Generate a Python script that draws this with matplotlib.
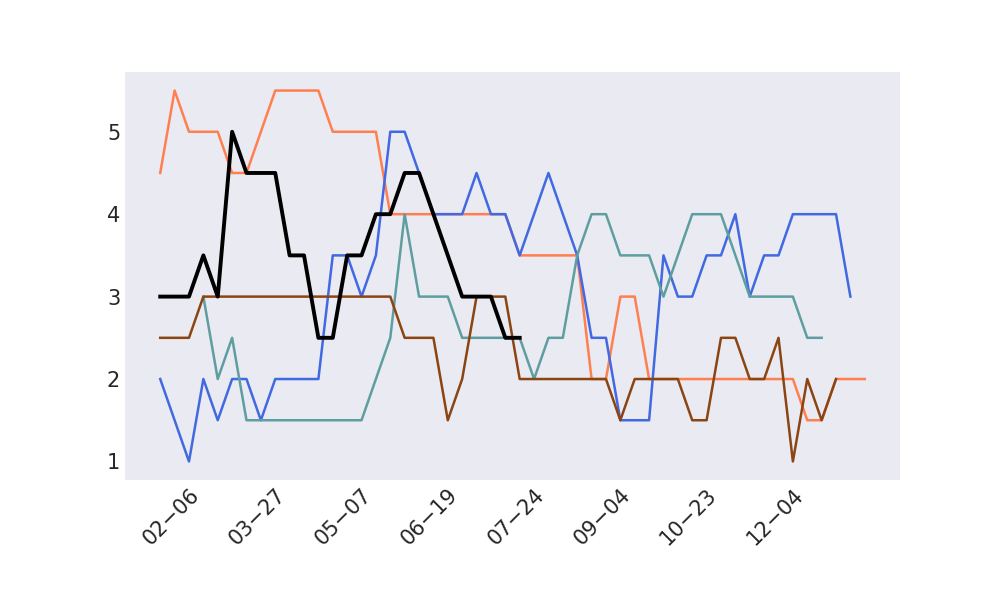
# lineas semanales: cinco series sobre fechas categoricas
import numpy as np
import matplotlib.pyplot as plt

fechas = ['01-23', '01-30', '02-06', '02-13', '02-20', '02-27', '03-06', '03-13', '03-20', '03-27',
          '04-03', '04-10', '04-17', '04-24', '05-01', '05-07', '05-14', '05-21', '05-28', '06-04',
          '06-11', '06-19', '06-26', '07-03', '07-10', '07-17', '07-24', '07-31', '08-07', '08-14',
          '08-21', '08-28', '09-04', '09-11', '09-18', '09-25', '10-02', '10-09', '10-16', '10-23',
          '10-30', '11-06', '11-13', '11-20', '11-27', '12-04', '12-11', '12-18', '12-25', '12-31']
# solo se etiqueta cada 6 fechas empezando en el indice 2
fechas = fechas[:2] + ['02-06'] + fechas[3:8] + ['03-27'] + fechas[9:14] + ['05-07'] + fechas[15:20] + \
         ['06-19'] + fechas[21:26] + ['07-24'] + fechas[27:32] + ['09-04'] + fechas[33:38] + \
         ['10-23'] + fechas[39:44] + ['12-04'] + fechas[45:]

nan = np.nan
naranja = [4.5, 5.5, 5, 5, 5, 4.5, 4.5, 5, 5.5, 5.5, 5.5, 5.5, 5, 5, 5, 5, 4, 4, 4, 4,
           4, 4, 4, 4, 4, 3.5, 3.5, 3.5, 3.5, 3.5, 2, 2, 3, 3, 2, 2, 2, 2, 2, 2,
           2, 2, 2, 2, 2, 1.5, 1.5, 2, 2, 2]
azul = [2, 1.5, 1, 2, 1.5, 2, 2, 1.5, 2, 2, 2, 2, 3.5, 3.5, 3, 3.5, 5, 5, 4.5, 4,
        4, 4, 4.5, 4, 4, 3.5, 4, 4.5, 4, 3.5, 2.5, 2.5, 1.5, 1.5, 1.5, 3.5, 3, 3, 3.5, 3.5,
        4, 3, 3.5, 3.5, 4, 4, 4, 4, 3, nan]
verde = [nan, nan, nan, 3, 2, 2.5, 1.5, 1.5, 1.5, 1.5, 1.5, 1.5, 1.5, 1.5, 1.5, 2, 2.5, 4, 3, 3,
         3, 2.5, 2.5, 2.5, 2.5, 2.5, 2, 2.5, 2.5, 3.5, 4, 4, 3.5, 3.5, 3.5, 3, 3.5, 4, 4, 4,
         3.5, 3, 3, 3, 3, 2.5, 2.5, nan, nan, nan]
negro = [3, 3, 3, 3.5, 3, 5, 4.5, 4.5, 4.5, 3.5, 3.5, 2.5, 2.5, 3.5, 3.5, 4, 4, 4.5, 4.5, 4,
         3.5, 3, 3, 3, 2.5, 2.5] + [nan] * 24
marron = [2.5, 2.5, 2.5, 3, 3, 3, 3, 3, 3, 3, 3, 3, 3, 3, 3, 3, 3, 2.5, 2.5, 2.5,
          1.5, 2, 3, 3, 3, 2, 2, 2, 2, 2, 2, 2, 1.5, 2, 2, 2, 2, 1.5, 1.5, 2.5,
          2.5, 2, 2, 2.5, 1, 2, 1.5, 2, nan, nan]

x = np.arange(len(fechas))
fig, ax = plt.subplots(figsize=(10, 6), dpi=100)
fig.subplots_adjust(left=0.125, right=0.9, bottom=0.2, top=0.88)
ax.set_facecolor('#EAEAF2')
for s in ax.spines.values():
    s.set_visible(False)

ax.plot(x, naranja, color='#FF7F50', lw=1.8)
ax.plot(x, azul, color='#4169E1', lw=1.8)
ax.plot(x, verde, color='#5F9EA0', lw=1.8)
ax.plot(x, marron, color='#8B4513', lw=1.8)
ax.plot(x, negro, color='black', lw=2.8)

ax.set_xticks(x[2::6])
ax.set_xticklabels([fechas[i].replace('-', '\u2212') for i in x[2::6]],
                   rotation=45, ha='right', rotation_mode='anchor')
ax.set_yticks([1, 2, 3, 4, 5])
ax.tick_params(axis='both', length=0, labelsize=15, colors='#262626')
fig.savefig('out.png')
